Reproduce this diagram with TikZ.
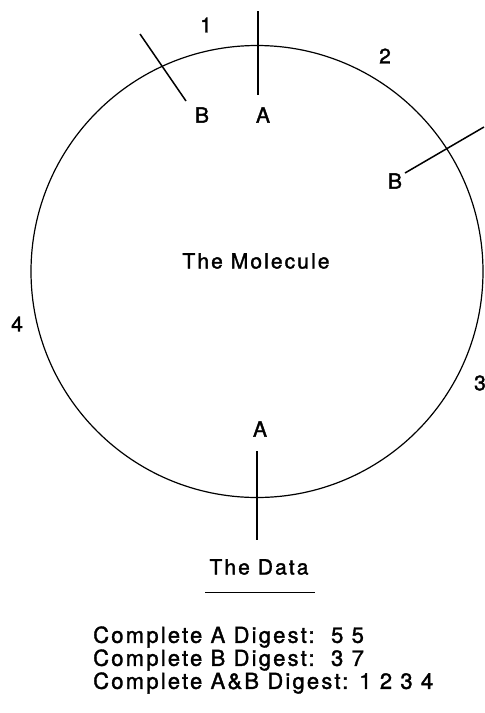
\documentclass[tikz,border=0pt]{standalone}
\usepackage{fontspec}
\setmainfont{TeX Gyre Heros}[LetterSpace=10, FakeBold=1.6]
\usetikzlibrary{positioning,calc}

\begin{document}
\begin{tikzpicture}[
  x=1pt, y=-1pt,
  every node/.style={font=\fontsize{21}{23}\selectfont, inner sep=0pt},
  ring/.style={line width=1.2pt},
  cut/.style={line width=1.5pt},
  site/.style={anchor=center},
  digest/.style={anchor=west, font=\fontsize{22}{23}\selectfont}
]
  \useasboundingbox (0,0) rectangle (485,713);

  % the molecule
  \coordinate (ctr) at (257,271.5);
  \draw[ring] (ctr) circle [radius=226pt];
  \node (mol) at (256,261) {The Molecule};

  % fragment numbers
  \node (f1) at (206,25) {1};
  \node (f2) at (385,56) {2};
  \node (f3) at (480,383) {3};
  \node (f4) at (17,324) {4};

  % cut sites
  \node[site] (aTop) at (263,115) {A};
  \node[site] (bTop) at (202,115) {B};
  \node[site] (bRight) at (395,181) {B};
  \node[site] (aBot) at (260,429) {A};

  \coordinate (aTopOut) at (258,11);
  \coordinate (aTopIn) at (258,95);
  \coordinate (bTopOut) at (140,34);
  \coordinate (bTopIn) at (186,101);
  \coordinate (bRightOut) at (484,127);
  \coordinate (bRightIn) at (405,173);
  \coordinate (aBotIn) at (257,451);
  \coordinate (aBotOut) at (257,540);

  \draw[cut] (aTopOut) -- (aTopIn);
  \draw[cut] (bTopOut) -- (bTopIn);
  \draw[cut] (bRightOut) -- (bRightIn);
  \draw[cut] (aBotIn) -- (aBotOut);

  % the data
  \node (data) at (259,567) {The Data};
  \coordinate (ulL) at (205,592);
  \coordinate (ulR) at (315,592);
  \draw[line width=0.8pt] (ulL) -- (ulR);

  \node[digest] (dA) at (93,637) {Complete A Digest:\ \ 5 5};
  \node[digest] (dB) at (93,660) {Complete B Digest:\ \ 3 7};
  \node[digest] (dAB) at (93,683) {Complete A\&B Digest: 1 2 3 4};
\end{tikzpicture}
\end{document}
